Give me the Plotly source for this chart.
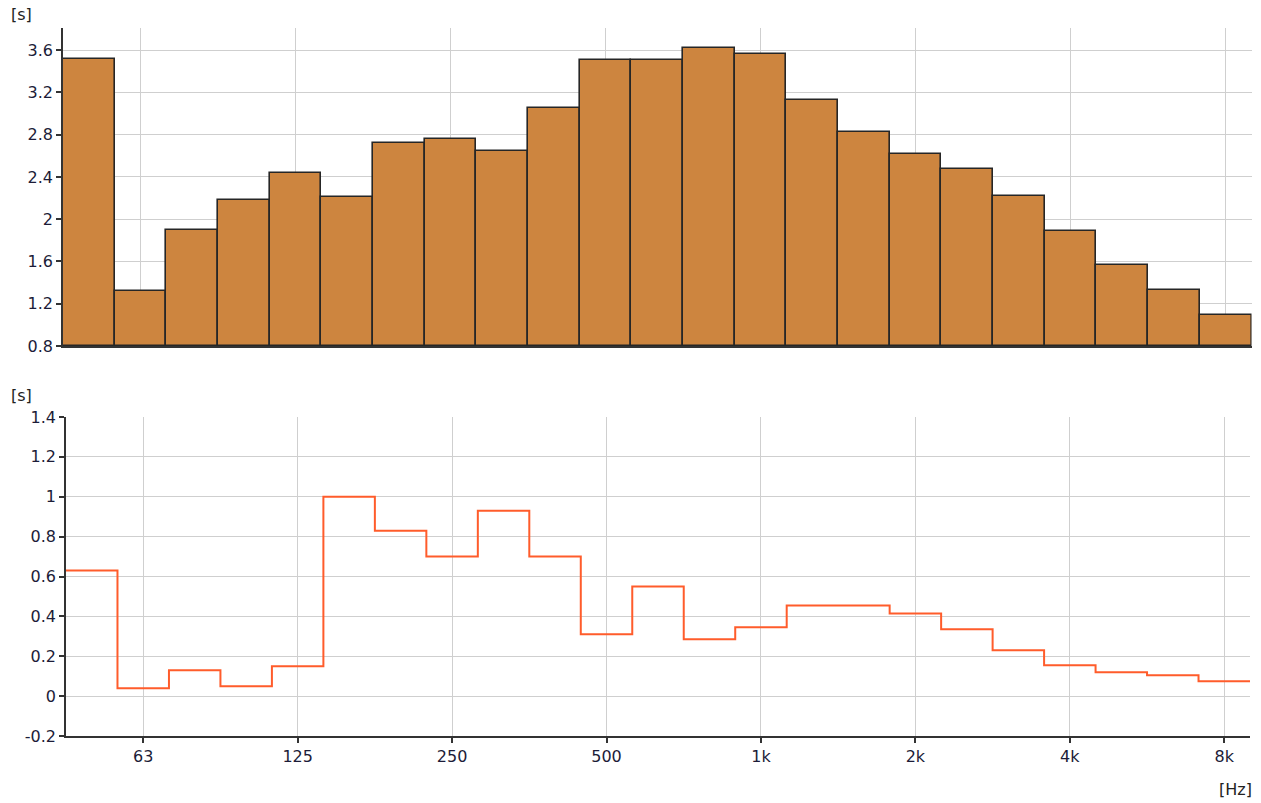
import plotly.graph_objects as go

# One-third-octave bands (nominal centre frequencies)
bands = ["50", "63", "80", "100", "125", "160", "200", "250", "315", "400",
         "500", "630", "800", "1k", "1.25k", "1.6k", "2k", "2.5k", "3.15k",
         "4k", "5k", "6.3k", "8k"]

# Upper panel: reverberation time per band [s]
rt_values = [3.52, 1.32, 1.90, 2.18, 2.44, 2.21, 2.72, 2.76, 2.65, 3.05,
             3.51, 3.51, 3.62, 3.56, 3.13, 2.83, 2.62, 2.48, 2.22, 1.89,
             1.57, 1.33, 1.09]

# Lower panel: spread per band [s]
spread_values = [0.63, 0.04, 0.13, 0.05, 0.15, 1.00, 0.83, 0.70, 0.93, 0.70,
                 0.31, 0.55, 0.285, 0.345, 0.455, 0.455, 0.415, 0.335, 0.23,
                 0.155, 0.12, 0.105, 0.075]

# Octave tick labels
octave_labels = ["63", "125", "250", "500", "1k", "2k", "4k", "8k"]

top_ticks = [0.8, 1.2, 1.6, 2.0, 2.4, 2.8, 3.2, 3.6]
top_tick_text = ["0.8", "1.2", "1.6", "2", "2.4", "2.8", "3.2", "3.6"]
bottom_ticks = [-0.2, 0, 0.2, 0.4, 0.6, 0.8, 1.0, 1.2, 1.4]
bottom_tick_text = ["-0.2", "0", "0.2", "0.4", "0.6", "0.8", "1", "1.2", "1.4"]

W, H = 1261, 803
idx = list(range(len(bands)))
tick_idx = [bands.index(t) for t in octave_labels]

# step outline: one horizontal segment per band, edges at half-band positions
step_x = [i - 0.5 for i in idx] + [idx[-1] + 0.5]
step_y = spread_values + [spread_values[-1]]

FONT = "DejaVu Sans"
FSIZE = 16
TICK_COLOR = "#1c1c38"
GRID = "#cfcfcf"
AXIS = "#333333"

fig = go.Figure()

fig.add_trace(go.Bar(
    x=idx, y=[v - 0.8 for v in rt_values], base=0.8, width=1.0,
    marker=dict(color="#cd853f", line=dict(color="#262626", width=1.6)),
    xaxis="x", yaxis="y", showlegend=False, hoverinfo="skip",
))

fig.add_trace(go.Scatter(
    x=step_x, y=step_y, mode="lines", line=dict(color="#ff5c2b", width=2, shape="hv"),
    xaxis="x2", yaxis="y2", showlegend=False, hoverinfo="skip",
))

def px_x(p):
    return p / W

def px_y(p):
    return 1 - p / H

common_x = dict(
    tickmode="array", tickvals=tick_idx, ticktext=octave_labels,
    showgrid=True, gridcolor=GRID, gridwidth=1.2, zeroline=False,
    showline=True, linecolor=AXIS, linewidth=1.5, automargin=False,
    tickfont=dict(family=FONT, size=FSIZE, color=TICK_COLOR),
)

common_y = dict(
    tickmode="array", showgrid=True, gridcolor=GRID, gridwidth=1.2,
    zeroline=False, showline=True, linecolor=AXIS, linewidth=1.5,
    ticks="outside", ticklen=5, tickwidth=1.5, tickcolor=AXIS, automargin=False,
    tickfont=dict(family=FONT, size=FSIZE, color=TICK_COLOR),
)

fig.update_layout(
    width=W, height=H,
    margin=dict(l=0, r=0, t=0, b=0, pad=0),
    paper_bgcolor="white", plot_bgcolor="white",
    bargap=0,
    xaxis=dict(common_x, domain=[px_x(63), px_x(1251.5)], range=[-0.5, 22.5],
               showticklabels=False, ticks="", anchor="y"),
    yaxis=dict(common_y, domain=[px_y(346), px_y(28)], range=[0.8, 3.81],
               tickvals=top_ticks, ticktext=top_tick_text, anchor="x"),
    xaxis2=dict(common_x, domain=[px_x(66), px_x(1250)], range=[-0.5, 22.5],
                ticks="outside", ticklen=5, tickwidth=1.5, tickcolor=AXIS,
                anchor="y2"),
    yaxis2=dict(common_y, domain=[px_y(736), px_y(417)], range=[-0.2, 1.4],
                tickvals=bottom_ticks, ticktext=bottom_tick_text, anchor="x2"),
    annotations=[
        dict(text="[s]", xref="paper", yref="paper", x=px_x(9), y=px_y(15),
             xanchor="left", yanchor="middle", showarrow=False,
             font=dict(family=FONT, size=FSIZE, color="#222222")),
        dict(text="[s]", xref="paper", yref="paper", x=px_x(9), y=px_y(395),
             xanchor="left", yanchor="middle", showarrow=False,
             font=dict(family=FONT, size=FSIZE, color="#222222")),
        dict(text="[Hz]", xref="paper", yref="paper", x=px_x(1254), y=px_y(789),
             xanchor="right", yanchor="middle", showarrow=False,
             font=dict(family=FONT, size=FSIZE, color="#222222")),
    ],
)

fig.write_html("out.html")
